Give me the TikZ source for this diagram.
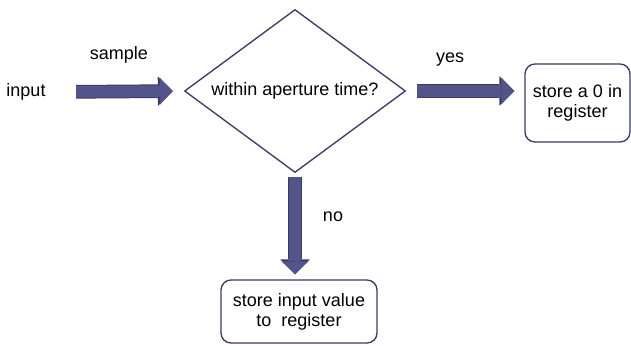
\documentclass[tikz,border=0pt]{standalone}
\usepackage{fontspec}
\setmainfont{Liberation Sans}
\definecolor{flowarrow}{RGB}{82,84,138}
\definecolor{flowedge}{RGB}{58,59,100}
\usetikzlibrary{arrows.meta,positioning,shapes.geometric}

\begin{document}
\begin{tikzpicture}[x=0.6pt,y=-0.6pt,font=\fontsize{10.8}{12}\selectfont,
  decision/.style={draw=flowedge,diamond,line width=0.8pt,inner sep=0pt,
        shape aspect=1.36,minimum width=132.6pt,minimum height=97.8pt},
  storebox/.style={draw=flowedge,rounded corners=6pt,line width=0.8pt,align=center},
  fatarrow/.style={draw=flowarrow,line width=7pt,
        -{Triangle[length=7.8pt,width=16.2pt,line width=0pt]},
        preaction={draw=flowedge,line width=8.2pt,
        -{Triangle[length=9pt,width=17.6pt,line width=0pt]}}}]
  \useasboundingbox (0,0) rectangle (631,345);

  %% Nodes
  \node (input) at (26,92) {input};
  \node[decision] (dec) at (295,91) {within aperture time?};
  \node[storebox,minimum width=63pt,minimum height=46.8pt]
        (zero) at (577.5,103) {store a 0 in\\register};
  \node[storebox,minimum width=93.6pt,minimum height=37.8pt]
        (keep) at (299,311.5) {store input value\\to~ register};

  %% Arrow labels
  \node (sample) at (119,55) {sample};
  \node (yes) at (450,60) {yes};
  \node (no) at (333,217) {no};

  %% Flow arrows
  \draw[fatarrow,shorten <=14.8pt,shorten >=6.6pt] (input.east) -- (dec.west);
  \draw[fatarrow,shorten <=6.6pt,shorten >=6pt] (dec.east) -- (dec.east -| zero.west);
  \draw[fatarrow,shorten <=2.4pt,shorten >=3pt] (dec.south) -- (dec.south |- keep.north);
\end{tikzpicture}
\end{document}
